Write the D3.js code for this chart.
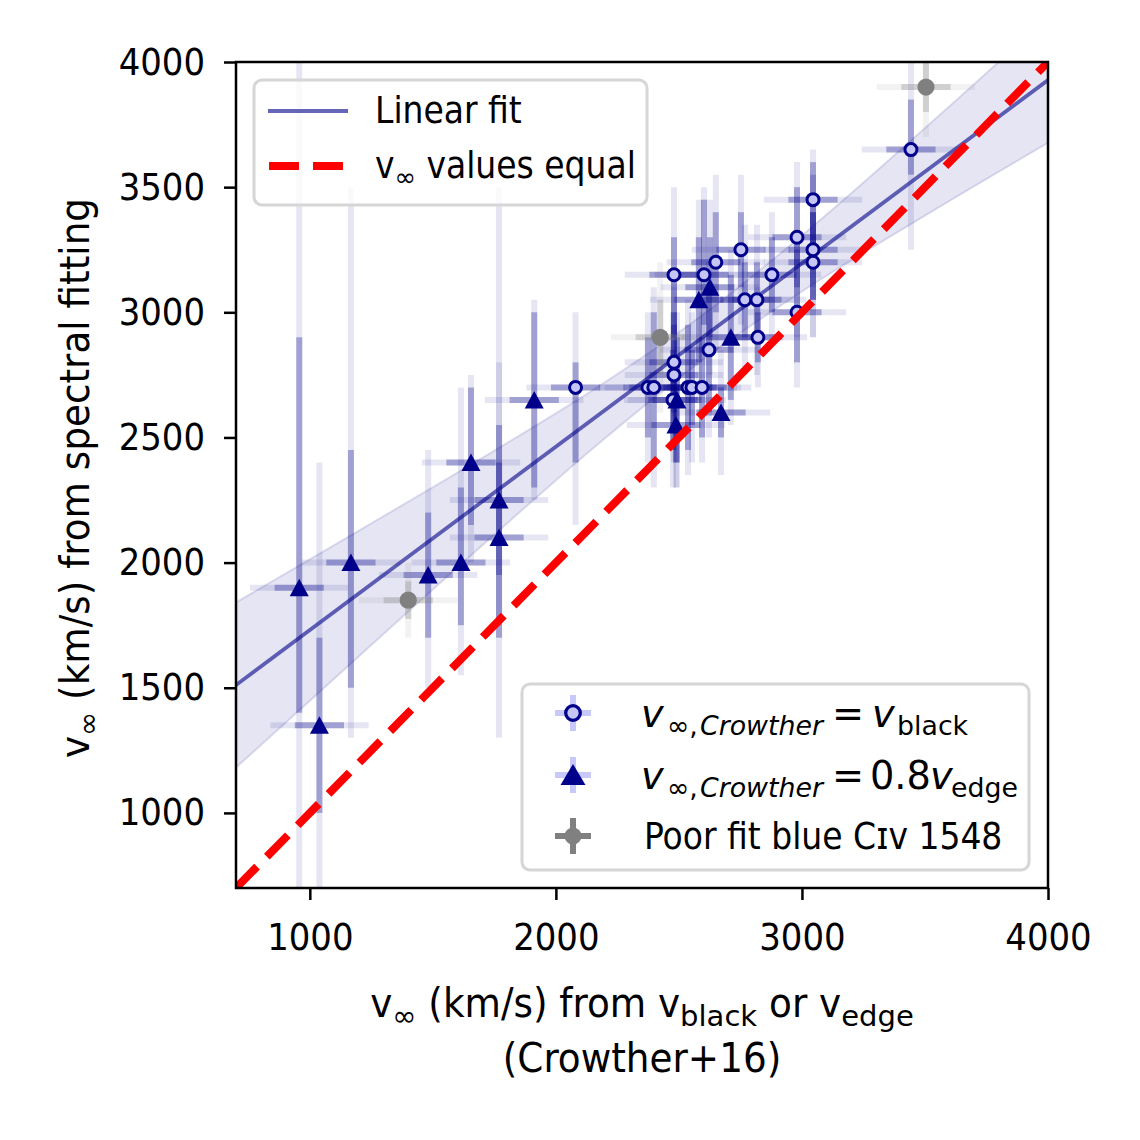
<!DOCTYPE html>
<html>
<head>
<meta charset="utf-8">
<script src="https://cdn.jsdelivr.net/npm/d3@7"></script>
<style>
  body { margin: 0; background: #fff; }
  text { font-family: "DejaVu Sans Condensed", "DejaVu Sans", sans-serif; font-stretch: condensed; }
  .math { font-family: "DejaVu Sans", sans-serif; font-stretch: normal; }
</style>
</head>
<body>
<div id="chart"></div>
<script>
// axis ranges and ticks
const xDomain = [700, 4000];
const yDomain = [700, 4000];
const xTicks = [1000, 2000, 3000, 4000];
const yTicks = [1000, 1500, 2000, 2500, 3000, 3500, 4000];

// Crowther+16 errors are the same for every star
const xErrIn = 100;
const xErrOut = 200;

// v_inf,Crowther = v_black
const blackX = [3443, 3045, 2980, 2752, 3045, 3045, 2650, 2480, 2602, 2878, 2768, 2817,
                2980, 2821, 2622, 2480, 2480, 2374, 2398, 2080, 2537, 2553, 2594, 2476];
const blackY = [3650, 3450, 3300, 3250, 3250, 3200, 3200, 3150, 3150, 3150, 3050, 3050,
                3000, 2900, 2850, 2800, 2750, 2700, 2700, 2700, 2700, 2700, 2700, 2650];
const blackYErrIn = [[100,200],[200,150],[200,200],[150,150],[200,150],[150,200],[200,200],[250,150],
                     [200,300],[150,150],[150,150],[150,150],[200,250],[100,100],[250,250],[200,200],
                     [200,200],[200,200],[300,300],[300,100],[250,250],[150,150],[200,200],[200,200]];
const blackYErrOut = [[400,350],[350,200],[400,300],[300,300],[350,300],[300,350],[350,350],[400,350],
                      [300,350],[250,250],[300,300],[300,300],[300,300],[200,200],[350,350],[350,350],
                      [350,350],[300,300],[400,400],[550,300],[350,350],[300,300],[300,300],[350,350]];

// v_inf,Crowther = 0.8 v_edge
const edgeX = [2626, 2581, 2711, 2492, 2488, 2671, 1912, 1655, 1769, 1769, 1614, 1167, 1481, 957, 1039];
const edgeY = [3100, 3050, 2900, 2650, 2550, 2600, 2650, 2400, 2250, 2100, 2000, 2000, 1950, 1900, 1350];
const edgeYErrIn = [[200,200],[250,250],[250,250],[250,250],[150,150],[100,100],[350,350],[250,300],
                    [300,300],[400,300],[250,300],[500,450],[250,250],[500,1000],[350,350]];
const edgeYErrOut = [[350,350],[400,400],[350,350],[350,350],[250,250],[250,250],[400,400],[400,350],
                     [500,1250],[800,700],[450,700],[700,1500],[450,500],[1300,2200],[700,1050]];

// poor fit of the blue C IV 1548 component
const poorX = [1400, 2424, 3504];
const poorY = [1850, 2900, 3900];
const poorYErrIn = [[75,75],[150,150],[100,100]];
const poorYErrOut = [[150,150],[300,300],[200,200]];

// linear fit and its confidence band
const fitX = [700, 4000];
const fitY = [1511, 3928];
const bandX = [700, 1200, 1700, 2200, 2600, 3000, 3500, 4000];
const bandLo = [1181, 1626, 2068, 2497, 2812, 3083, 3386, 3677];
const bandHi = [1841, 2128, 2418, 2721, 2992, 3307, 3736, 4179];

const navy = "#00008b";
const tickFs = 37.7;
const labelFs = 41.5;
const legFs = 36.7;
const mathFs = 38.3;

const svg = d3.select("#chart").append("svg")
    .attr("width", 1140)
    .attr("height", 1140);

const plot = { left: 236, right: 1048, top: 62, bottom: 888 };

const x = d3.scaleLinear().domain(xDomain).range([plot.left, plot.right]);
const y = d3.scaleLinear().domain(yDomain).range([plot.bottom, plot.top]);

svg.append("clipPath").attr("id", "clip")
  .append("rect")
    .attr("x", plot.left).attr("y", plot.top)
    .attr("width", plot.right - plot.left).attr("height", plot.bottom - plot.top);

const g = svg.append("g").attr("clip-path", "url(#clip)");

// confidence band
const band = bandX.map((v, i) => ({ x: v, lo: bandLo[i], hi: bandHi[i] }));
g.append("path")
    .datum(band)
    .attr("d", d3.area().curve(d3.curveMonotoneX).x(d => x(d.x)).y0(d => y(d.lo)).y1(d => y(d.hi)))
    .attr("fill", navy).attr("fill-opacity", 0.1);
["lo", "hi"].forEach(k => {
  g.append("path")
      .datum(band)
      .attr("d", d3.line().curve(d3.curveMonotoneX).x(d => x(d.x)).y(d => y(d[k])))
      .attr("fill", "none").attr("stroke", navy).attr("stroke-opacity", 0.12).attr("stroke-width", 2);
});

// error bars, two layers per point
function errorBars(xs, ys, eIn, eOut, color) {
  const pts = xs.map((v, i) => ({ x: v, y: ys[i], ein: eIn[i], eout: eOut[i] }));
  const layers = [
    { op: 0.1, xe: xErrOut, ye: d => d.eout },
    { op: 0.3, xe: xErrIn, ye: d => d.ein }
  ];
  layers.forEach(l => {
    const eg = g.append("g").attr("stroke", color).attr("stroke-opacity", l.op).attr("stroke-width", 6);
    eg.selectAll(".h").data(pts).join("line")
        .attr("x1", d => x(d.x - l.xe)).attr("x2", d => x(d.x + l.xe))
        .attr("y1", d => y(d.y)).attr("y2", d => y(d.y));
    eg.selectAll(".v").data(pts).join("line")
        .attr("x1", d => x(d.x)).attr("x2", d => x(d.x))
        .attr("y1", d => y(d.y - l.ye(d)[0])).attr("y2", d => y(d.y + l.ye(d)[1]));
  });
  return pts;
}

const blackPts = errorBars(blackX, blackY, blackYErrIn, blackYErrOut, navy);
const edgePts = errorBars(edgeX, edgeY, edgeYErrIn, edgeYErrOut, navy);
const poorPts = errorBars(poorX, poorY, poorYErrIn, poorYErrOut, "#808080");

// fit line
g.append("line")
    .attr("x1", x(fitX[0])).attr("y1", y(fitY[0]))
    .attr("x2", x(fitX[1])).attr("y2", y(fitY[1]))
    .attr("stroke", navy).attr("stroke-opacity", 0.6).attr("stroke-width", 3.8);

// markers
const triPath = "M0,-9L9.5,8.5L-9.5,8.5Z";
const triBig = "M0,-11L12.5,10L-12.5,10Z";
g.selectAll(".black").data(blackPts).join("circle")
    .attr("cx", d => x(d.x)).attr("cy", d => y(d.y)).attr("r", 6)
    .attr("fill", "#c6c6f6").attr("stroke", navy).attr("stroke-width", 3);
g.selectAll(".edge").data(edgePts).join("path")
    .attr("d", triPath)
    .attr("transform", d => `translate(${x(d.x)},${y(d.y)})`)
    .attr("fill", navy);
g.selectAll(".poor").data(poorPts).join("circle")
    .attr("cx", d => x(d.x)).attr("cy", d => y(d.y)).attr("r", 8.6)
    .attr("fill", "#808080");

// v_inf values equal
g.append("line")
    .attr("x1", x(xDomain[0])).attr("y1", y(xDomain[0]))
    .attr("x2", x(xDomain[1])).attr("y2", y(xDomain[1]))
    .attr("stroke", "red").attr("stroke-width", 8).attr("stroke-dasharray", "30,14");

// axes
const xAxis = svg.append("g")
    .attr("transform", `translate(0,${plot.bottom})`)
    .call(d3.axisBottom(x).tickValues(xTicks).tickSize(12).tickPadding(23).tickFormat(d3.format("d")));
const yAxis = svg.append("g")
    .attr("transform", `translate(${plot.left},0)`)
    .call(d3.axisLeft(y).tickValues(yTicks).tickSize(12).tickPadding(19).tickFormat(d3.format("d")));
[xAxis, yAxis].forEach(a => {
  a.select(".domain").remove();
  a.selectAll(".tick line").attr("stroke", "#000").attr("stroke-width", 2.5);
  a.selectAll(".tick text").attr("font-size", tickFs).attr("fill", "#000");
  a.attr("font-family", null);
});
svg.append("rect")
    .attr("x", plot.left).attr("y", plot.top)
    .attr("width", plot.right - plot.left).attr("height", plot.bottom - plot.top)
    .attr("fill", "none").attr("stroke", "#000").attr("stroke-width", 2.5);

// text with subscripts: parts are [string, isSub]; subscripts use the math font
function rich(sel, parts, size) {
  let shifted = false;
  parts.forEach(p => {
    const t = sel.append("tspan").text(p[0]);
    if (p[1]) {
      t.attr("class", "math").attr("font-size", size * 0.7);
      if (!shifted) { t.attr("dy", size * 0.22); shifted = true; }
    } else if (shifted) {
      t.attr("dy", -size * 0.22); shifted = false;
    }
  });
  return sel;
}

// math text placed piece by piece: [string, x, baseline, size, italic]
function mathText(parent, parts) {
  parts.forEach(p => {
    parent.append("text").attr("class", "math")
        .attr("x", p[1]).attr("y", p[2]).attr("font-size", p[3])
        .attr("font-style", p[4] ? "italic" : null)
        .text(p[0]);
  });
}

// axis labels
const xl = svg.append("text").attr("x", 642).attr("y", 1017)
    .attr("text-anchor", "middle").attr("font-size", labelFs);
rich(xl, [["v"], ["∞", true], [" (km/s) from v"], ["black", true], [" or v"], ["edge", true]], labelFs);
svg.append("text").attr("x", 642).attr("y", 1072)
    .attr("text-anchor", "middle").attr("font-size", labelFs).text("(Crowther+16)");

const yl = svg.append("text")
    .attr("transform", "translate(89,478) rotate(-90)")
    .attr("text-anchor", "middle").attr("font-size", labelFs);
rich(yl, [["v"], ["∞", true], [" (km/s) from spectral fitting"]], labelFs);

// legend, upper left
const leg1 = svg.append("g");
leg1.append("rect").attr("x", 254).attr("y", 80).attr("width", 393).attr("height", 125).attr("rx", 8)
    .attr("fill", "#fff").attr("fill-opacity", 0.8).attr("stroke", "#d6d6d6").attr("stroke-width", 3);
leg1.append("line").attr("x1", 268).attr("x2", 348).attr("y1", 111).attr("y2", 111)
    .attr("stroke", navy).attr("stroke-opacity", 0.6).attr("stroke-width", 3.8);
leg1.append("text").attr("x", 375).attr("y", 123).attr("font-size", legFs).text("Linear fit");
leg1.append("line").attr("x1", 269).attr("x2", 348).attr("y1", 166).attr("y2", 166)
    .attr("stroke", "red").attr("stroke-width", 8).attr("stroke-dasharray", "30,14");
const l1t = leg1.append("text").attr("x", 375).attr("y", 178).attr("font-size", legFs);
rich(l1t, [["v"], ["∞", true], [" values equal"]], legFs);

// legend, lower right
const leg2 = svg.append("g");
leg2.append("rect").attr("x", 522).attr("y", 684).attr("width", 507).attr("height", 186).attr("rx", 8)
    .attr("fill", "#fff").attr("fill-opacity", 0.8).attr("stroke", "#d6d6d6").attr("stroke-width", 3);
const rows = [713, 775, 836];
rows.forEach((ry, i) => {
  const c = i < 2 ? "#c8c8fa" : "#808080";
  leg2.append("line").attr("x1", 555).attr("x2", 591).attr("y1", ry).attr("y2", ry)
      .attr("stroke", c).attr("stroke-width", 6);
  leg2.append("line").attr("x1", 573).attr("x2", 573).attr("y1", ry - 18).attr("y2", ry + 18)
      .attr("stroke", c).attr("stroke-width", 6);
});
leg2.append("circle").attr("cx", 573).attr("cy", rows[0]).attr("r", 7.3)
    .attr("fill", "#c6c6f6").attr("stroke", navy).attr("stroke-width", 3.3);
leg2.append("path").attr("d", triBig).attr("transform", `translate(573,${rows[1]})`).attr("fill", navy);
leg2.append("circle").attr("cx", 573).attr("cy", rows[2]).attr("r", 8.6).attr("fill", "#808080");

const sub = mathFs * 0.7;
mathText(leg2, [
  ["v", 641, 727, mathFs, true], ["∞,", 667, 735, sub, false], ["Crowther", 700, 735, sub, true],
  ["=", 832, 727, mathFs, false], ["v", 872, 727, mathFs, true], ["black", 897, 735, sub, false],
  ["v", 641, 789, mathFs, true], ["∞,", 667, 797, sub, false], ["Crowther", 700, 797, sub, true],
  ["=", 832, 789, mathFs, false], ["0.8", 870, 789, mathFs, false], ["v", 930, 789, mathFs, true],
  ["edge", 951, 797, sub, false]
]);
leg2.append("text").attr("x", 644).attr("y", 849).attr("font-size", legFs).text("Poor fit blue Cɪv 1548");
</script>
</body>
</html>
